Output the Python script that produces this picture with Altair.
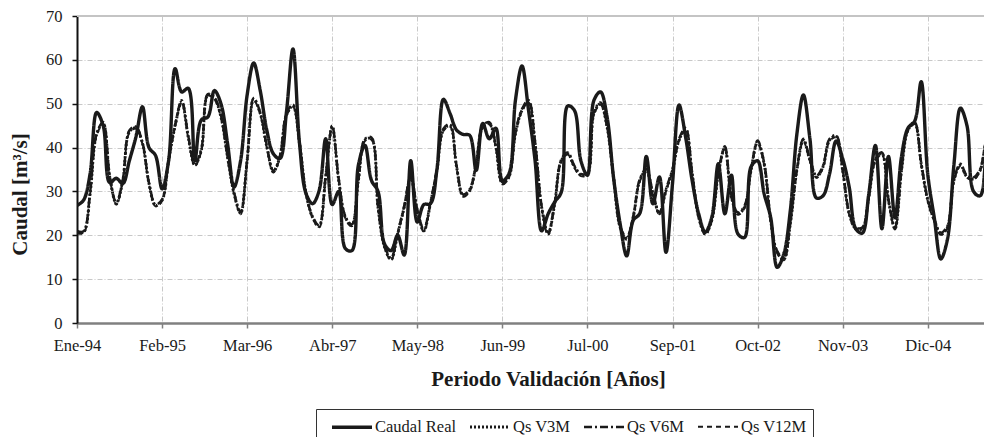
import altair as alt
import pandas as pd

series = ["Caudal Real", "Qs V3M", "Qs V6M", "Qs V12M"]
tick_labels = ["Ene-94", "Feb-95", "Mar-96", "Abr-97", "May-98", "Jun-99",
               "Jul-00", "Sep-01", "Oct-02", "Nov-03", "Dic-04"]
tick_step = 13

caudal_real = [
    26.8, 28, 34, 48, 45, 32, 33, 31.8, 37, 42.4,
    49.3, 40, 38.2, 30.6, 37, 58, 52.7, 53.5, 37, 46.3,
    47, 53, 50, 41, 31, 37, 52, 59.3, 53, 44,
    38.6, 37.5, 48, 62.5, 41, 29.5, 27.2, 30.2, 42, 27,
    30, 17, 16.5, 36, 40.5, 32.5, 30, 18, 16.5, 20,
    15.5, 37, 23, 27, 27.2, 35, 51, 47.8, 44, 43,
    42.8, 34.8, 45.5, 42, 44.4, 32.5, 34, 50.8, 58.6, 48.5,
    37, 21, 24.9, 27.6, 29.8, 49.5, 48.5, 37, 33.7, 50.8,
    52.7, 47, 33, 22.6, 15.3, 23.4, 25, 38, 27.2, 33.3,
    16.1, 31.8, 49.7, 42.4, 32.5, 24.9, 20.7, 24.1, 36.3, 24.9,
    33.7, 20.3, 19.5, 35.6, 37, 29.5, 24.1, 12.7, 15.7, 25.6,
    43, 52, 42, 28.5, 29, 34, 41.5, 37.5, 31, 21.5,
    20.5, 29.5, 40.5, 21.5, 38, 24, 38, 44.5, 46, 55,
    34, 24, 14.6, 19, 36, 49, 45, 30, 29, 41,
    54,
]

qs_v3m = [
    20.7, 20.7, 29.5, 43, 45.5, 33.3, 27.2, 32.5, 43.6, 44.5,
    41, 31.8, 26.8, 28, 37, 45, 50.5, 42.4, 36, 39.4,
    52, 51.2, 47, 37.9, 29.5, 25, 37, 51, 47.8, 40.2,
    34.5, 37.9, 47.4, 49.5, 41, 29.5, 24.1, 22, 33.3, 44.8,
    32.5, 24.1, 22.2, 32.5, 41.7, 42, 26.4, 17.3, 14.5, 20.3,
    26.4, 33.3, 25.6, 21, 27.2, 34.8, 44, 45, 35.6, 29,
    30.2, 36.3, 44.7, 45.5, 40.2, 31.8, 33.3, 43.2, 48.5, 50.5,
    41, 26.4, 20.3, 27.2, 37, 38.6, 35.6, 33.7, 34, 47.8,
    50, 44.7, 33, 21.8, 19.2, 24.1, 32.5, 34.8, 29.5, 24.9,
    30.2, 34.8, 41.7, 44.2, 34, 24.1, 20.3, 23.4, 34, 40,
    28.7, 24.9, 26.4, 34.8, 41.3, 36.3, 23.4, 16.1, 14.5, 22.6,
    34.8, 41.7, 37.1, 33.3, 35.6, 41.7, 42.5, 34.8, 24.9, 21.5,
    21.5, 28.7, 37.1, 38.6, 28, 21.5, 34.8, 44, 45.5, 36.3,
    28, 23.4, 20.3, 21.8, 32.5, 36, 33.3, 32.9, 34.8, 41.7,
    44.7,
]

qs_v6m = [
    21, 20.9, 29.8, 43.2, 45.8, 33.6, 27.4, 32.7, 43.9, 44.8,
    41.2, 32, 27, 28.2, 37.3, 45.3, 50.8, 42.7, 36.2, 39.7,
    52.2, 51.5, 47.3, 38.1, 29.8, 25.3, 37.3, 51.3, 48, 40.5,
    34.7, 38.1, 47.7, 49.8, 41.3, 29.7, 24.3, 22.3, 33.6, 45,
    32.8, 24.4, 22.5, 32.8, 42, 42.3, 26.7, 17.6, 14.8, 20.6,
    26.7, 33.6, 25.9, 21.3, 27.5, 35.1, 44.3, 45.3, 35.9, 29.3,
    30.5, 36.6, 45, 45.8, 40.5, 32.1, 33.6, 43.5, 48.8, 50.8,
    41.3, 26.7, 20.6, 27.5, 37.3, 38.9, 35.9, 34, 34.3, 48.1,
    50.3, 45, 33.3, 22.1, 19.5, 24.4, 32.8, 35.1, 29.8, 25.2,
    30.5, 35.1, 42, 44.5, 34.3, 24.4, 20.6, 23.7, 34.3, 40.3,
    29, 25.2, 26.7, 35.1, 41.6, 36.6, 23.7, 16.4, 14.8, 22.9,
    35.1, 42, 37.4, 33.6, 35.9, 42, 42.8, 35.1, 25.2, 21.8,
    21.8, 29, 37.4, 38.9, 28.3, 21.8, 35.1, 44.3, 45.8, 36.6,
    28.3, 23.7, 20.6, 22.1, 32.8, 36.3, 33.6, 33.2, 35.1, 42,
    45,
]

qs_v12m = [
    20.5, 20.5, 29.3, 42.8, 45.3, 33.1, 27, 32.3, 43.4, 44.3,
    40.8, 31.6, 26.6, 27.8, 36.8, 44.8, 50.3, 42.2, 35.8, 39.2,
    51.8, 51, 46.8, 37.7, 29.3, 24.8, 36.8, 50.8, 47.6, 40,
    34.3, 37.7, 47.2, 49.3, 40.8, 29.3, 23.9, 21.8, 33.1, 44.6,
    32.3, 23.9, 22, 32.3, 41.5, 41.8, 26.2, 17.1, 14.3, 20.1,
    26.2, 33.1, 25.4, 20.8, 27, 34.6, 43.8, 44.8, 35.4, 28.8,
    30, 36.1, 44.5, 45.3, 40, 31.6, 33.1, 43, 48.3, 50.3,
    40.8, 26.2, 20.1, 27, 36.8, 38.4, 35.4, 33.5, 33.8, 47.6,
    49.8, 44.5, 32.8, 21.6, 19, 23.9, 32.3, 34.6, 29.3, 24.7,
    30, 34.6, 41.5, 44, 33.8, 23.9, 20.1, 23.2, 33.8, 39.8,
    28.5, 24.7, 26.2, 34.6, 41.1, 36.1, 23.2, 15.9, 14.3, 22.4,
    34.6, 41.5, 36.9, 33.1, 35.4, 41.5, 42.3, 34.6, 24.7, 21.3,
    21.3, 28.5, 36.9, 38.4, 27.8, 21.3, 34.6, 43.8, 45.3, 36.1,
    27.8, 23.2, 20.1, 21.6, 32.3, 35.8, 33.1, 32.7, 34.6, 41.5,
    44.5,
]

rows = []
for name, vals in zip(series, [caudal_real, qs_v3m, qs_v6m, qs_v12m]):
    for i, v in enumerate(vals):
        rows.append({"mes": i, "caudal": v, "serie": name})
df = pd.DataFrame(rows)

font = "Liberation Serif"
label_expr = "[" + ",".join(f"'{t}'" for t in tick_labels) + "][round(datum.value/13)]"
tick_values = [i * tick_step for i in range(len(tick_labels))]

x_enc = alt.X(
    "mes:Q",
    scale=alt.Scale(domain=[0, 138.6], nice=False, zero=False),
    axis=alt.Axis(
        values=tick_values, labelExpr=label_expr,
        title="Periodo Validación [Años]",
        titleX=471, titleY=45, titleBaseline="top",
        domainColor="#808080", domainWidth=2.5,
        tickColor="#808080", tickSize=5, tickWidth=1.5,
        labelPadding=9, labelFlush=False,
    ),
)
y_enc = alt.Y(
    "caudal:Q",
    scale=alt.Scale(domain=[0, 70], nice=False),
    axis=alt.Axis(
        values=list(range(0, 71, 10)),
        title="Caudal [m³/s]",
        titleX=-57, titleY=178, titleBaseline="middle",
        domainColor="#111111", domainWidth=2,
        tickColor="#111111", tickSize=5, tickWidth=1.5,
        labelPadding=10,
    ),
)

legend = alt.Legend(title=None)
lines = alt.Chart(df).mark_line(interpolate="catmull-rom", clip=True).encode(
    x=x_enc,
    y=y_enc,
    color=alt.Color("serie:N", scale=alt.Scale(domain=series, range=["#1a1a1a"] * 4), legend=legend),
    strokeDash=alt.StrokeDash("serie:N", scale=alt.Scale(domain=series, range=[[1, 0], [2, 2], [8, 3, 2, 3], [5, 4]]), legend=legend),
    strokeWidth=alt.StrokeWidth("serie:N", scale=alt.Scale(domain=series, range=[3.4, 2, 2, 2]), legend=legend),
)

top = alt.Chart(pd.DataFrame({"y": [70]})).mark_rule(color="#c4c4c4", strokeWidth=2).encode(y="y:Q")

chart = alt.layer(top, lines).properties(
    width=907, height=307,
    autosize=alt.AutoSizeParams(type="none"),
    padding={"left": 69, "top": 8, "right": 0, "bottom": 114},
).configure_view(stroke=None).configure_axis(
    labelFont=font, labelFontSize=16.5, labelColor="#1a1a1a",
    titleFont=font, titleFontSize=21, titleFontWeight="bold", titleColor="#1a1a1a",
    gridColor="#c8c8c8", gridDash=[5, 2, 1, 2], gridWidth=1,
).configure_legend(
    orient="none", legendX=239, legendY=393, direction="horizontal", columns=4,
    strokeColor="#333333", fillColor="white", padding=6,
    symbolType="M-1,0H3", symbolSize=400, symbolOffset=8,
    labelFont=font, labelFontSize=16.5, labelColor="#1a1a1a",
    labelOffset=21, columnPadding=3,
)

chart.save("out.html", embed_options={"renderer": "svg", "actions": False})
